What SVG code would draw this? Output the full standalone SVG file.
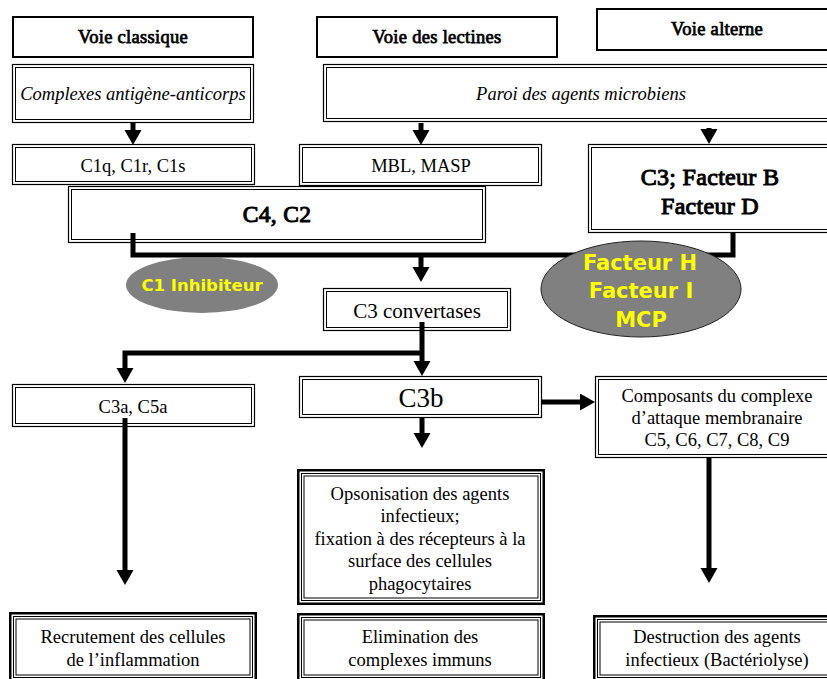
<svg xmlns="http://www.w3.org/2000/svg" width="827" height="679" viewBox="0 0 827 679">
<defs>
<style>
.t{font-family:"Liberation Serif","Times New Roman",serif;font-size:18.5px;fill:#000;text-anchor:middle}
.b{font-weight:normal;stroke:#000;stroke-width:0.75px;letter-spacing:0.3px}
.i{font-style:italic}
.y{font-family:"DejaVu Sans","Noto Sans",sans-serif;font-weight:bold;fill:#ffff00;text-anchor:middle}
.s{fill:#fff;stroke:#000;stroke-width:2}
.d1{fill:#fff;stroke:#000;stroke-width:1.2}
.d2{fill:none;stroke:#000;stroke-width:1}
.t1{fill:#fff;stroke:#000;stroke-width:2.5}
.t2{fill:none;stroke:#000;stroke-width:1}
.conn{fill:none;stroke:#000;stroke-width:5;stroke-linejoin:miter}
.ell{fill:#808080}
</style>
<marker id="ah" markerUnits="userSpaceOnUse" markerWidth="16" markerHeight="18" viewBox="0 0 16 18" refX="1" refY="8.5" orient="auto">
<path d="M0,0 L15,8.5 L0,17 z" fill="#000"/>
</marker>
</defs>
<rect width="827" height="679" fill="#fff"/>

<g id="voie_classique">
<rect class="s" x="13" y="17" width="240" height="40"/>
<text class="t b" x="133" y="43">Voie classique</text>
</g>
<g id="voie_lectines">
<rect class="s" x="317" y="17" width="240" height="40"/>
<text class="t b" x="437" y="43">Voie des lectines</text>
</g>
<g id="voie_alterne">
<rect class="s" x="597" y="9" width="250" height="41"/>
<text class="t b" x="717" y="35">Voie alterne</text>
</g>

<g id="complexes">
<rect class="d1" x="12.5" y="64.5" width="241" height="58"/>
<rect class="d2" x="15.5" y="67.5" width="235" height="52"/>
<text class="t i" x="133" y="100">Complexes antigène-anticorps</text>
</g>
<g id="paroi">
<rect class="d1" x="323.5" y="64.5" width="520" height="57"/>
<rect class="d2" x="326.5" y="67.5" width="514" height="51"/>
<text class="t i" x="581" y="100">Paroi des agents microbiens</text>
</g>

<g id="c1q">
<rect class="d1" x="12.5" y="144.5" width="242" height="40"/>
<rect class="d2" x="15.5" y="147.5" width="236" height="34"/>
<text class="t" x="133" y="172">C1q, C1r, C1s</text>
</g>
<g id="mbl">
<rect class="d1" x="299.5" y="144.5" width="242" height="41"/>
<rect class="d2" x="302.5" y="147.5" width="236" height="35"/>
<text class="t" x="421" y="172">MBL, MASP</text>
</g>
<g id="c4c2">
<rect class="d1" x="68.5" y="186.5" width="417" height="56"/>
<rect class="d2" x="71.5" y="189.5" width="411" height="50"/>
<text class="t b" x="277" y="222" style="font-size:23.5px;stroke-width:1px">C4, C2</text>
</g>
<g id="c3_facteurs">
<rect class="d1" x="588.5" y="144.5" width="260" height="88"/>
<rect class="d2" x="591.5" y="147.5" width="254" height="82"/>
<text class="t b" x="710" y="185" style="font-size:24px;stroke-width:1px">C3; Facteur B</text>
<text class="t b" x="710" y="214" style="font-size:24px;stroke-width:1px">Facteur D</text>
</g>

<g id="c3_convertases">
<rect class="d1" x="323.5" y="288.5" width="187" height="42"/>
<rect class="d2" x="326.5" y="291.5" width="181" height="36"/>
<text class="t" x="417" y="318" style="font-size:21px">C3 convertases</text>
</g>
<g id="c3a_c5a">
<rect class="d1" x="12.5" y="384.5" width="242" height="42"/>
<rect class="d2" x="15.5" y="387.5" width="236" height="36"/>
<text class="t" x="133" y="413">C3a, C5a</text>
</g>
<g id="c3b">
<rect class="d1" x="299.5" y="376.5" width="242" height="41"/>
<rect class="d2" x="302.5" y="379.5" width="236" height="35"/>
<text class="t" x="421" y="407" style="font-size:27px">C3b</text>
</g>
<g id="composants">
<rect class="d1" x="595.5" y="376.5" width="250" height="81"/>
<rect class="d2" x="598.5" y="379.5" width="244" height="75"/>
<text class="t" x="717" y="402">Composants du complexe</text>
<text class="t" x="717" y="424">d’attaque membranaire</text>
<text class="t" x="717" y="446">C5, C6, C7, C8, C9</text>
</g>

<g id="opsonisation">
<rect class="t1" x="298.25" y="470.25" width="245.5" height="133.5"/>
<rect class="t2" x="301.5" y="473.5" width="239" height="127"/>
<rect class="t2" x="304" y="476" width="234" height="122"/>
<text class="t" x="420" y="500">Opsonisation des agents</text>
<text class="t" x="420" y="522">infectieux;</text>
<text class="t" x="420" y="545">fixation à des récepteurs à la</text>
<text class="t" x="420" y="567">surface des cellules</text>
<text class="t" x="420" y="590">phagocytaires</text>
</g>
<g id="recrutement">
<rect class="t1" x="10.25" y="613.25" width="245.5" height="67.5"/>
<rect class="t2" x="13.5" y="616.5" width="239" height="61"/>
<rect class="t2" x="16" y="619" width="234" height="56"/>
<text class="t" x="133" y="643">Recrutement des cellules</text>
<text class="t" x="133" y="666">de l’inflammation</text>
</g>
<g id="elimination">
<rect class="t1" x="298.25" y="614.25" width="245.5" height="66.5"/>
<rect class="t2" x="301.5" y="617.5" width="239" height="60"/>
<rect class="t2" x="304" y="620" width="234" height="55"/>
<text class="t" x="420" y="643">Elimination des</text>
<text class="t" x="420" y="666">complexes immuns</text>
</g>
<g id="destruction">
<rect class="t1" x="594.25" y="616.25" width="260" height="65.5"/>
<rect class="t2" x="597.5" y="619.5" width="260" height="58"/>
<rect class="t2" x="600" y="622" width="260" height="53"/>
<text class="t" x="717" y="643">Destruction des agents</text>
<text class="t" x="717" y="666">infectieux (Bactériolyse)</text>
</g>

<g id="connectors">
<path class="conn" d="M133,123 V131" marker-end="url(#ah)"/>
<path class="conn" d="M421,123 V131" marker-end="url(#ah)"/>
<path class="conn" d="M709,128 V130" marker-end="url(#ah)"/>
<path class="conn" d="M133,233 V255 H733 V232"/>
<path class="conn" d="M421,255 V268" marker-end="url(#ah)"/>
<path class="conn" d="M422,322 V362" marker-end="url(#ah)"/>
<path class="conn" d="M422,353 H125 V369" marker-end="url(#ah)"/>
<path class="conn" d="M125,418 V571" marker-end="url(#ah)"/>
<path class="conn" d="M542,402 H581" marker-end="url(#ah)"/>
<path class="conn" d="M422,418 V434" marker-end="url(#ah)"/>
<path class="conn" d="M709,458 V569" marker-end="url(#ah)"/>
</g>

<g id="c1_inhibiteur">
<ellipse class="ell" cx="202" cy="285" rx="76" ry="28"/>
<text class="y" x="202" y="291" style="font-size:16.5px">C1 Inhibiteur</text>
</g>
<g id="regulateurs">
<ellipse class="ell" cx="641" cy="289" rx="100" ry="48" stroke="#222" stroke-width="1"/>
<text class="y" x="640" y="270" style="font-size:21px">Facteur H</text>
<text class="y" x="641" y="298" style="font-size:21px">Facteur I</text>
<text class="y" x="641" y="327" style="font-size:21px">MCP</text>
</g>
</svg>
